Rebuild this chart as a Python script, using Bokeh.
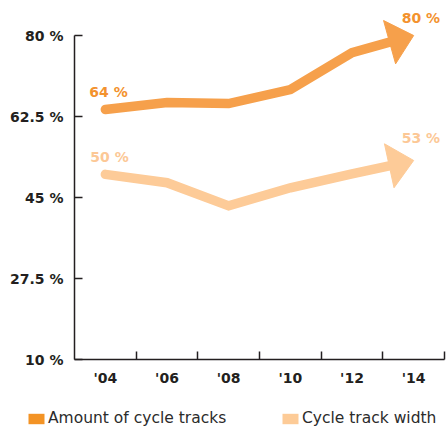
import math
from bokeh.plotting import figure
from bokeh.models import ColumnDataSource, Range1d, FixedTicker, Legend, LegendItem
from bokeh.embed import file_html
from bokeh.resources import INLINE
from bokeh.core.properties import value

# ---- data ----
years = [2004, 2006, 2008, 2010, 2012, 2014]
year_labels = ["'04", "'06", "'08", "'10", "'12", "'14"]
amount_of_tracks = [64, 65.5, 65.3, 68.3, 76.3, 80]
track_width = [50, 48.2, 43.2, 47.1, 50.1, 53]
y_ticks = [10, 27.5, 45, 62.5, 80]
y_tick_labels = ["10 %", "27.5 %", "45 %", "62.5 %", "80 %"]
series_names = ["Amount of cycle tracks", "Cycle track width"]

# ---- styles ----
DARK_LINE, DARK_TEXT, DARK_KEY = "#F6A04B", "#F3922E", "#F39325"
LIGHT_LINE, LIGHT_TEXT, LIGHT_KEY = "#FDCB98", "#FCC896", "#FDCB97"
AXIS = "#231F20"
FONT = "DejaVu Sans"

# ---- layout (pixel placement of the plotting area inside the canvas) ----
W, H = 447, 428
LEFT_PX, RIGHT_PX, TOP_PX, BOT_PX = 74, 444, 35, 359
XA, XB = years[0] - 1, years[-1] + 1          # axis extent in x
YA, YB = y_ticks[0], y_ticks[-1]              # axis extent in y
px_x = (RIGHT_PX - LEFT_PX) / (XB - XA)
px_y = (BOT_PX - TOP_PX) / (YB - YA)
X0 = XA - LEFT_PX / px_x
X1 = XA + (W - LEFT_PX) / px_x
Y1 = YB + TOP_PX / px_y
Y0 = YA - (H - BOT_PX) / px_y

p = figure(width=W, height=H, x_range=Range1d(X0, X1), y_range=Range1d(Y0, Y1),
           output_backend="svg", toolbar_location=None,
           min_border_left=0, min_border_right=0, min_border_top=0, min_border_bottom=0)
p.outline_line_color = None
p.xgrid.visible = False
p.ygrid.visible = False
p.background_fill_color = "white"
p.border_fill_color = "white"


def arrow_parts(xs, ys, head_len=25, head_half=22.5):
    dx = (xs[-1] - xs[-2]) * px_x
    dy = (ys[-1] - ys[-2]) * px_y
    L = math.hypot(dx, dy)
    ux, uy = dx / L, dy / L
    bx = xs[-1] - ux * head_len / px_x
    by = ys[-1] - uy * head_len / px_y
    nx, ny = -uy, ux
    v1 = (bx + nx * head_half / px_x, by + ny * head_half / px_y)
    v2 = (bx - nx * head_half / px_x, by - ny * head_half / px_y)
    line_x = list(xs[:-1]) + [bx]
    line_y = list(ys[:-1]) + [by]
    head_x = [v1[0], xs[-1], v2[0]]
    head_y = [v1[1], ys[-1], v2[1]]
    return line_x, line_y, head_x, head_y


for vals, lc in [(amount_of_tracks, DARK_LINE), (track_width, LIGHT_LINE)]:
    lx, ly, hx, hy = arrow_parts(years, vals)
    p.line(lx, ly, line_color=lc, line_width=9.5, line_join="miter", line_cap="round")
    p.patch(hx, hy, fill_color=lc, line_color=lc, line_width=1)

# end labels
lab_src = ColumnDataSource(dict(
    x=[years[0], years[-1], years[0], years[-1]],
    y=[amount_of_tracks[0], amount_of_tracks[-1], track_width[0], track_width[-1]],
    text=[f"{v:g} %" for v in [amount_of_tracks[0], amount_of_tracks[-1], track_width[0], track_width[-1]]],
    color=[DARK_TEXT, DARK_TEXT, LIGHT_TEXT, LIGHT_TEXT],
    xo=[-16, -12, -15, -12],
    yo=[-18, -18, -17, -22],
))
p.text(x="x", y="y", text="text", text_color="color", x_offset="xo", y_offset="yo",
       source=lab_src, text_font=value(FONT), text_font_style="bold",
       text_font_size="14px", text_align="left", text_baseline="alphabetic")

# axes (drawn at fixed data locations inside the canvas)
p.yaxis.fixed_location = XA
p.yaxis.ticker = FixedTicker(ticks=y_ticks, minor_ticks=[])
p.yaxis.major_label_overrides = dict(zip(y_ticks, y_tick_labels))
p.yaxis.bounds = (YA, YB)
p.yaxis.major_tick_in = 8
p.yaxis.major_tick_out = 0
p.yaxis.major_label_standoff = 11

p.xaxis.fixed_location = YA
p.xaxis.ticker = FixedTicker(ticks=years, minor_ticks=[y + 1 for y in years])
p.xaxis.major_label_overrides = dict(zip(years, year_labels))
p.xaxis.bounds = (XA, XB)
p.xaxis.major_tick_in = 0
p.xaxis.major_tick_out = 0
p.xaxis.major_tick_line_color = None
p.xaxis.minor_tick_in = 8
p.xaxis.minor_tick_out = 0
p.xaxis.major_label_standoff = 10

for ax in (p.xaxis, p.yaxis):
    ax.axis_line_color = AXIS
    ax.axis_line_width = 1.5
    ax.major_tick_line_width = 1.5
    ax.minor_tick_line_width = 1.5
    ax.minor_tick_line_color = AXIS
    ax.major_label_text_font = FONT
    ax.major_label_text_font_style = "bold"
    ax.major_label_text_font_size = "14px"
    ax.major_label_text_color = AXIS
p.yaxis.minor_tick_line_color = None
p.yaxis.major_tick_line_color = AXIS

# legend keys: quads kept outside the visible range, used only for the legend swatches
off = X1 + 10
k1 = p.quad(left=[off], right=[off + 1], top=[YB], bottom=[YA], fill_color=DARK_KEY, line_color=None)
k2 = p.quad(left=[off], right=[off + 1], top=[YB], bottom=[YA], fill_color=LIGHT_KEY, line_color=None)
LEG_TOP = 413
for r, name, lx in [(k1, series_names[0], 26), (k2, series_names[1], 280)]:
    lg = Legend(items=[LegendItem(label=name, renderers=[r])], location=(lx, H - LEG_TOP - 14),
                orientation="horizontal", padding=0, margin=0, spacing=0,
                border_line_color=None, background_fill_alpha=0,
                glyph_width=20, glyph_height=13, label_height=14, label_standoff=2,
                label_text_font=FONT, label_text_font_size="15.5px",
                label_text_color="#2B2B2B")
    p.add_layout(lg, "center")

open("out.html", "w").write(file_html(p, INLINE))
